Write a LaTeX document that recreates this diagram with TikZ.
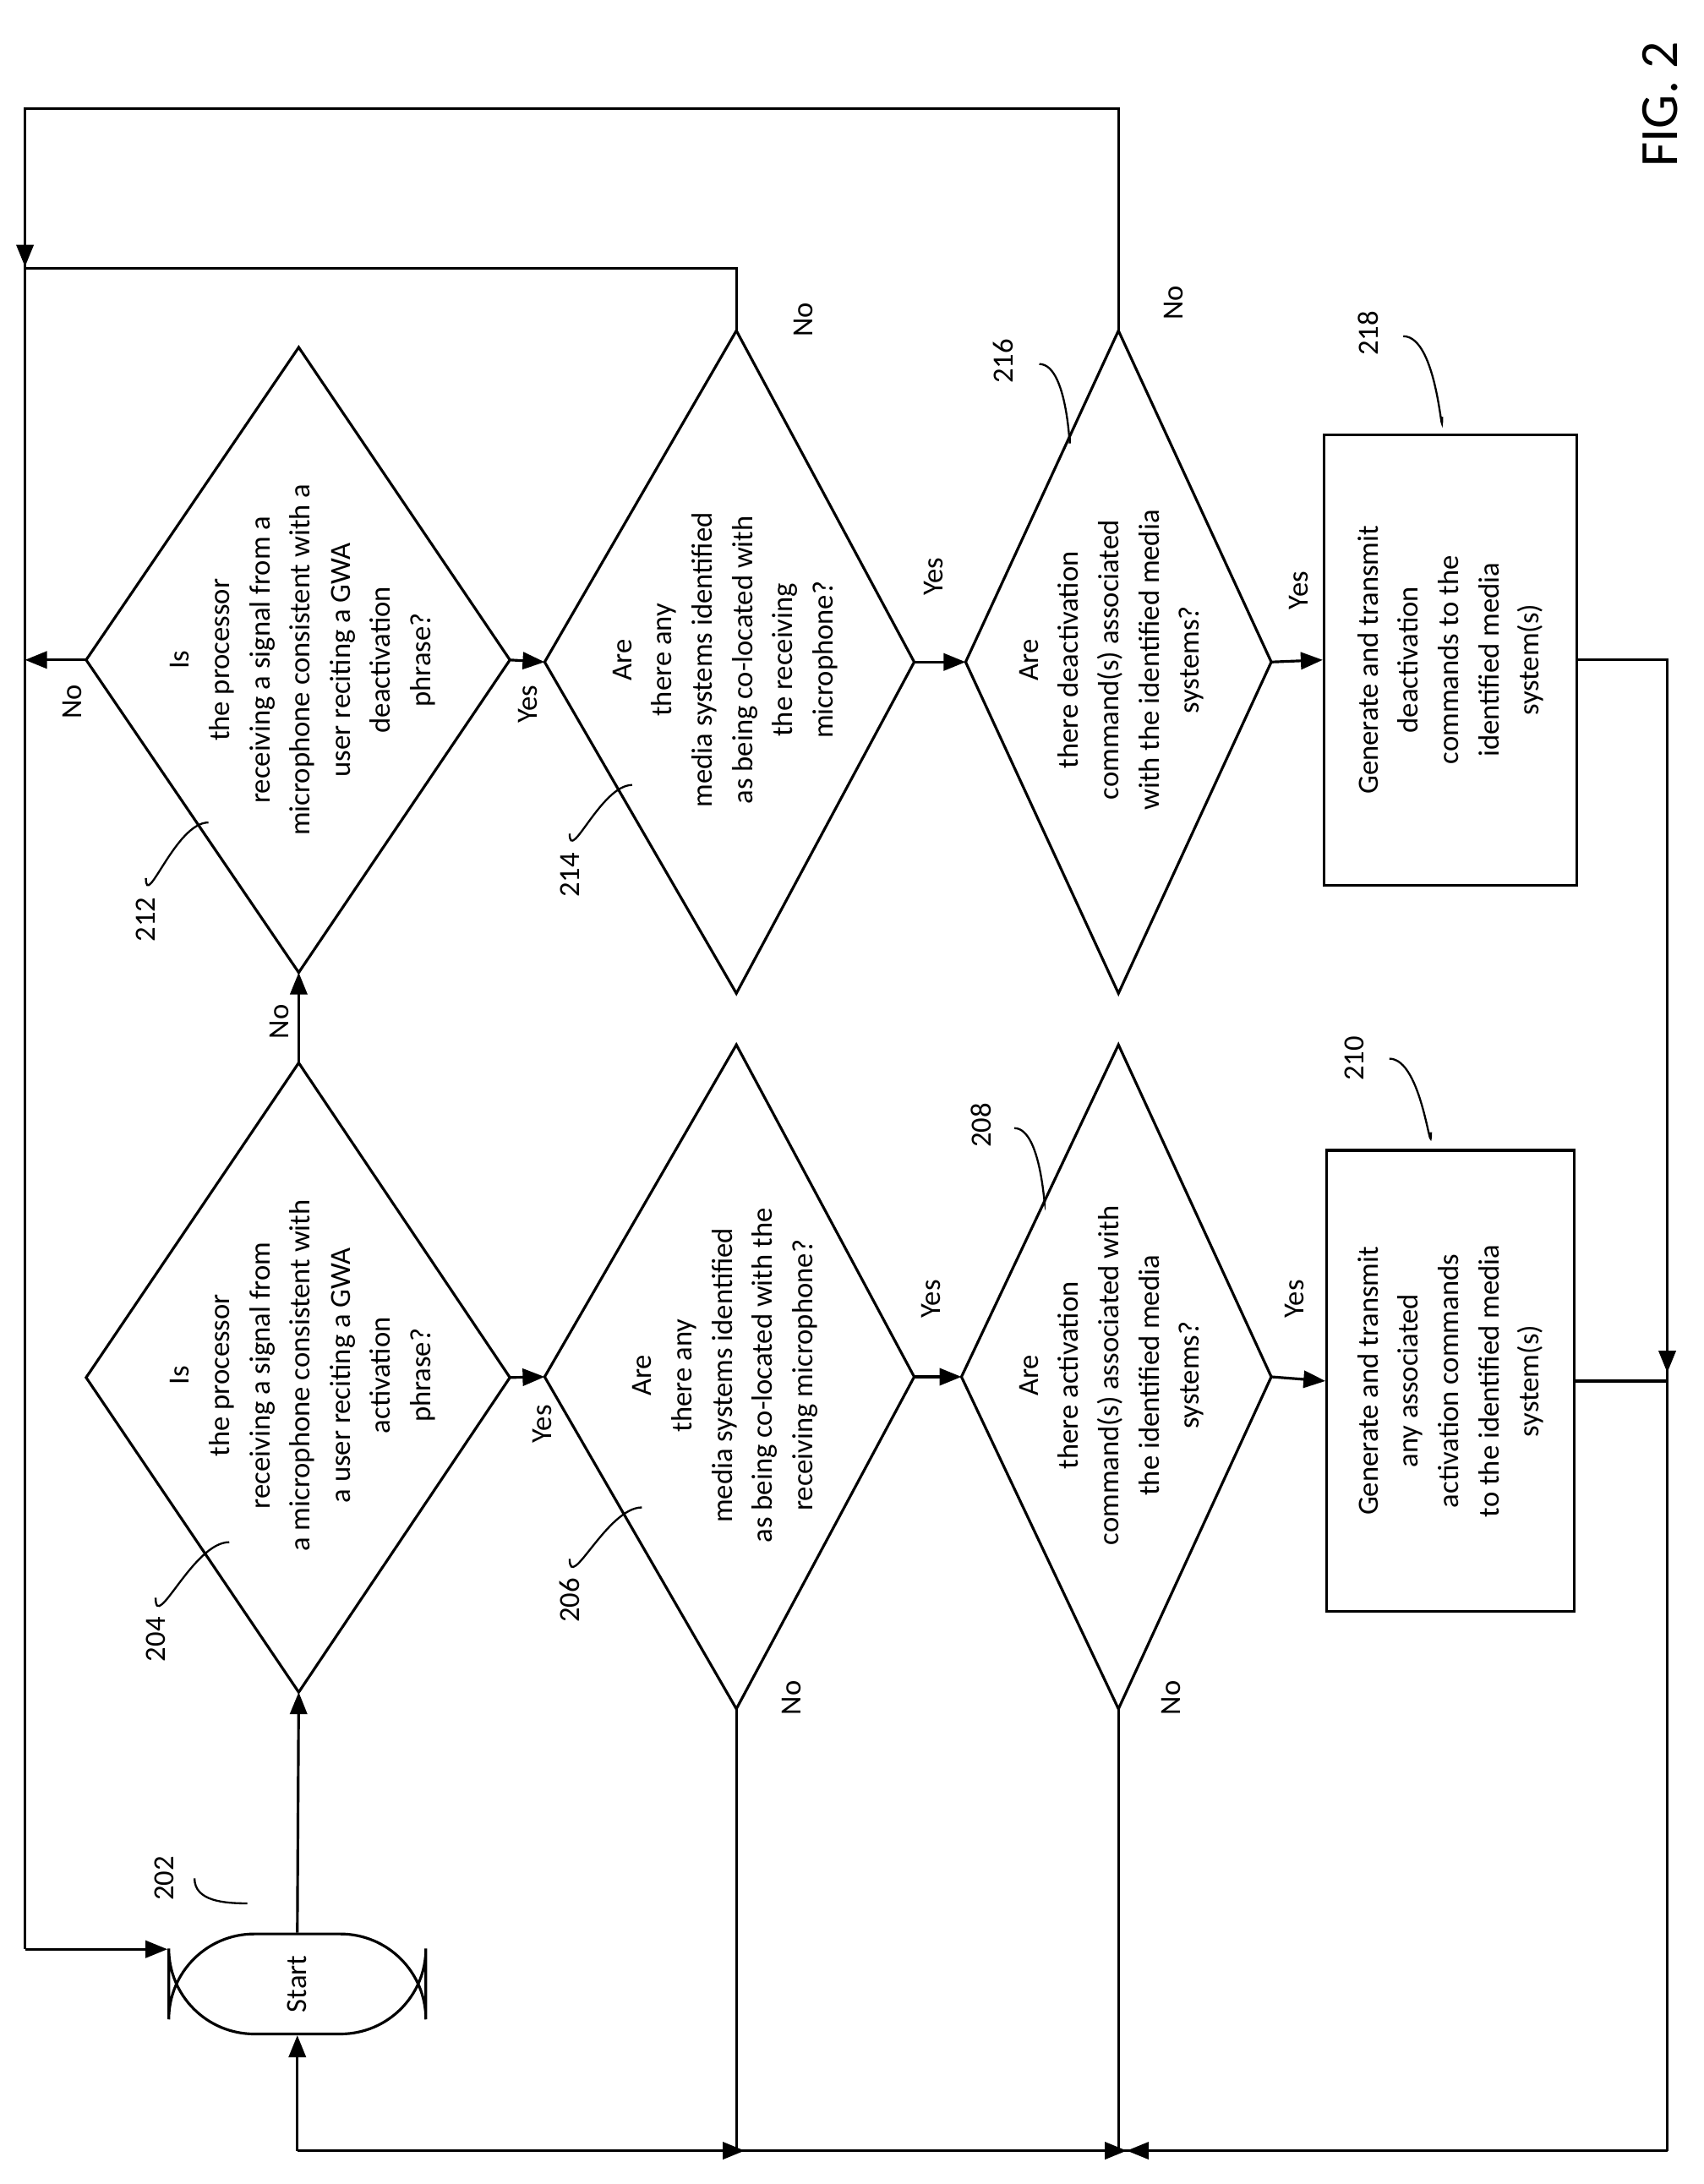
\documentclass[tikz,border=0pt]{standalone}
\usepackage{fontspec}
\setmainfont{Carlito}
\usetikzlibrary{arrows.meta}

\begin{document}
\begin{tikzpicture}[x=0.02cm,y=-0.02cm,line width=1.1pt,
    flow/.style={-{Triangle[length=9pt,width=7pt]}},
    txt/.style={rotate=90,align=center,font=\fontsize{12}{16.5}\selectfont},
    lbl/.style={rotate=90,font=\fontsize{12}{14}\selectfont},
    lead/.style={line width=0.8pt}]
  \useasboundingbox (0,0) rectangle (1226,1572);
  % Start terminal
  \node[draw,rounded corners=35,minimum width=72*0.02cm,minimum height=185*0.02cm,
        txt] (start) at (214,1428) {};
  \node[txt] at (214,1428) {Start};
  % Diamond corners: t=top, b=bottom, l=left, r=right
  \foreach \n/\cx/\ty/\by/\lx/\rx in {d204/215/765/1218/62/367,d212/215/250/700/62/367,
      d206/530/752/1230/392/658,d208/805/752/1230/692/915,
      d214/530/238/715/392/658,d216/805/238/715/695/915}{
    \coordinate (\n-t) at (\cx,\ty);
    \coordinate (\n-b) at (\cx,\by);
    \coordinate (\n-l) at (\lx,{(\ty+\by)/2});
    \coordinate (\n-r) at (\rx,{(\ty+\by)/2});
    \draw (\n-t) -- (\n-r) -- (\n-b) -- (\n-l) -- cycle;
  }
  % Texts of the diamonds
  \node[txt] at (218,990) {Is\\the processor\\receiving a signal from\\a microphone consistent with\\a user reciting a GWA\\activation\\phrase?};
  \node[txt] at (218,475) {Is\\the processor\\receiving a signal from a\\microphone consistent with a\\user reciting a GWA\\deactivation\\phrase?};
  \node[txt] at (522,990) {Are\\there any\\media systems identified\\as being co-located with the\\receiving microphone?};
  \node[txt] at (522,475) {Are\\there any\\media systems identified\\as being co-located with\\the receiving\\microphone?};
  \node[txt] at (800,990) {Are\\there activation\\command(s) associated with\\the identified media\\systems?};
  \node[txt] at (800,475) {Are\\there deactivation\\command(s) associated\\with the identified media\\systems?};
  % Boxes
  \node[draw,txt,minimum width=332*0.02cm,minimum height=178*0.02cm] (b210) at (1044,994)
    {Generate and transmit\\any associated\\activation commands\\to the identified media\\system(s)};
  \node[draw,txt,minimum width=324*0.02cm,minimum height=182*0.02cm] (b218) at (1044,475)
    {Generate and transmit\\deactivation\\commands to the\\identified media\\system(s)};
  % Connectors
  \draw[flow] (start.east) -- (d204-b);
  \draw[flow] (d204-t) -- node[lbl,right=2pt,pos=0.4,anchor=south] {No} (d212-b);
  \draw[flow] (d204-r) -- (d206-l);
  \node[lbl] at (390,1025) {Yes};
  \draw[flow] (d206-r) -- (d208-l);
  \node[lbl] at (670,935) {Yes};
  \draw[flow] (d208-r) -- (b210.north);
  \node[lbl] at (932,935) {Yes};
  \draw[flow] (d212-r) -- (d214-l);
  \node[lbl] at (380,507) {Yes};
  \draw[flow] (d214-r) -- (d216-l);
  \node[lbl] at (672,415) {Yes};
  \draw[flow] (d216-r) -- (b218.north);
  \node[lbl] at (935,425) {Yes};
  % No branches back to start
  \coordinate (lt) at (18,78);
  \coordinate (lm) at (18,193);
  \coordinate (ls) at (18,1403);
  \draw (d216-t) |- (lt) -- (lm);
  \draw (d214-t) |- (lm);
  \draw[flow] (lt) -- (18,192);
  \draw (lm) -- (ls);
  \draw[flow] (d212-l) -- (ls |- d212-l) ;
  \draw[flow] (ls) -- (start.north |- ls);
  \node[lbl] at (52,505) {No};
  \node[lbl] at (578,230) {No};
  \node[lbl] at (845,218) {No};
  \coordinate (rb) at (1200,1548);
  \coordinate (sb) at (214,1548);
  \draw (b218.south) -- (1200,475) -- (rb);
  \draw[flow] (1200,475) -- (1200,988);
  \draw (b210.south) -- (1200,994);
  \draw (rb) -- (sb);
  \draw[flow] (sb) -- (start.west);
  \draw[flow] (d206-b) |- (536,1548);
  \draw[flow] (d208-b) |- (811,1548);
  \draw[flow] (1200,1548) -- (811,1548);
  \node[lbl] at (570,1222) {No};
  \node[lbl] at (843,1222) {No};
  % Reference numerals
  \node[lbl] at (118,1352) {202};
  \draw[lead] (140,1352) to[out=-90,in=180] (178,1370);
  \node[lbl] at (112,1180) {204};
  \draw[lead] (112,1150) to[out=-90,in=180] (165,1110);
  \node[lbl] at (410,1152) {206};
  \draw[lead] (410,1122) to[out=-90,in=180] (462,1085);
  \node[lbl] at (706,810) {208};
  \draw[lead] (730,812) to[out=0,in=-90] (752,862);
  \node[lbl] at (975,762) {210};
  \draw[lead] (1000,762) to[out=0,in=-90] (1030,815);
  \node[lbl] at (105,662) {212};
  \draw[lead] (105,632) to[out=-90,in=180] (150,592);
  \node[lbl] at (410,630) {214};
  \draw[lead] (410,600) to[out=-90,in=180] (455,565);
  \node[lbl] at (722,260) {216};
  \draw[lead] (748,262) to[out=0,in=-90] (770,315);
  \node[lbl] at (985,240) {218};
  \draw[lead] (1010,242) to[out=0,in=-90] (1038,300);
  \node[rotate=90,font=\fontsize{22}{24}\selectfont] at (1195,75) {FIG. 2};
\end{tikzpicture}
\end{document}
